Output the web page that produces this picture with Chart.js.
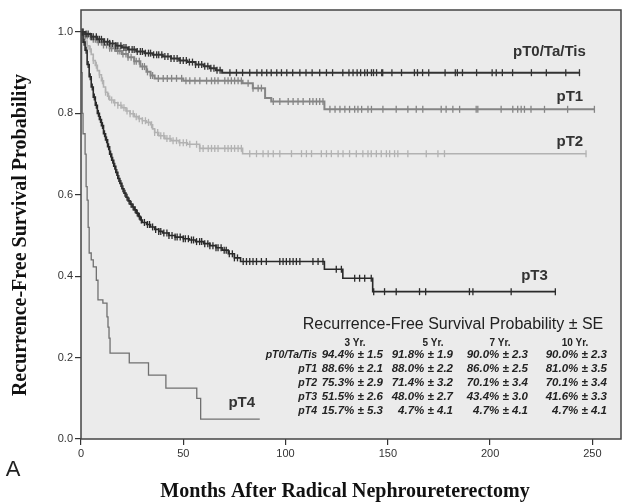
<!DOCTYPE html>
<html>
<head>
<meta charset="utf-8">
<script src="https://cdn.jsdelivr.net/npm/chart.js@4.4.1/dist/chart.umd.min.js"></script>
<style>
  body { margin: 0; background: #fff; }
  canvas { display: block; }
</style>
</head>
<body>
<canvas id="kmChart" width="623" height="503"></canvas>
<script>
// Kaplan-Meier steps: month of each drop and survival after it
const pT0Time = [0, 2, 5, 8, 11, 14, 17, 20, 23, 27, 31, 35, 40, 44, 48, 52, 56, 60, 63, 66, 69, 244];
const pT0Surv = [1, 0.995, 0.988, 0.982, 0.976, 0.972, 0.966, 0.962, 0.957, 0.952, 0.948, 0.944, 0.94, 0.935, 0.93, 0.926, 0.92, 0.916, 0.911, 0.906, 0.90, 0.90];
const pT0Censor = [1, 2.5, 3.5, 5, 6, 7.5, 9, 10, 11.5, 13, 14, 15.5, 17, 18, 19.5, 21, 22, 23.5, 25, 26, 27.5, 29, 30, 31.5, 33, 34, 35.5, 37, 38, 39.5, 41, 42.5, 44, 45.5, 47, 48.5, 50, 51.5, 53, 54.5, 56, 57.5, 59, 60.5, 62, 63.5, 65, 66.5, 68,
  72.8, 76, 79, 82.5, 86, 88.4, 90.8, 93, 95.7, 98, 100.6, 103.5, 107, 110, 113, 116.7, 120, 123, 128, 131, 133, 135, 136.7, 138.7, 140, 142, 143, 144.5, 147, 147.5, 152, 156.7, 163, 164.5, 167, 170, 178, 183, 184, 186.5, 193.4, 201, 203, 206, 211, 220.2, 227.5, 237, 243.7];

const pT1Time = [0, 2, 5, 8, 11, 14, 17, 20, 23, 26, 29, 32, 34, 36, 50, 79, 84, 90, 93, 119, 251];
const pT1Surv = [1, 0.99, 0.982, 0.975, 0.968, 0.96, 0.953, 0.946, 0.938, 0.928, 0.915, 0.902, 0.893, 0.886, 0.880, 0.874, 0.862, 0.838, 0.829, 0.81, 0.81];
const pT1Censor = [1, 2, 3, 4.5, 6, 7, 8.5, 10, 11, 12.5, 14, 15, 16.5, 18, 19, 20.5, 22, 23, 24.5, 26, 27, 28.5, 30, 31, 32.5, 34, 35,
  37.8, 40.2, 42.2, 44.3, 46.7, 49.2, 51.3, 53.2, 55.7, 58.1, 61.4, 63.8, 65.4, 67, 70.3, 71.9, 73.5, 75.1, 76.8, 78.4, 81.7, 84.1, 86.6, 88.2,
  94, 97.2, 101.3, 103.7, 106.1, 108.6, 111.8, 113.4, 115.1, 116.7, 118.3, 121.7, 124.2, 126.6, 129, 131.3, 133.8, 135.4, 137.2, 140.3, 142,
  147.6, 154.1, 159.8, 163.9, 167.1, 176.1, 178.5, 181.8, 185.1, 193.2, 194, 205.4, 211.1, 213.5, 215.2, 216.8, 220, 226.6, 237.9, 251];

const pT2Time = [0, 1, 2, 3, 4, 5, 6, 7, 8, 9, 10, 11, 12, 13, 14, 16, 18, 20, 22, 24, 26, 28, 30, 32, 34, 35, 36, 38, 41, 44, 48, 52, 58, 79, 247];
const pT2Surv = [1, 0.99, 0.978, 0.966, 0.958, 0.945, 0.93, 0.918, 0.905, 0.895, 0.88, 0.865, 0.852, 0.842, 0.833, 0.826, 0.82, 0.814, 0.806, 0.799, 0.792, 0.787, 0.782, 0.778, 0.772, 0.762, 0.753, 0.745, 0.738, 0.733, 0.728, 0.724, 0.714, 0.701, 0.701];
const pT2Censor = [1.5, 3, 4.5, 6, 7.5, 9, 10.5, 12, 13.5, 15, 16.5, 18, 19.5, 21, 22.5, 24, 25.5, 27, 28.5, 30, 31.5, 33, 34.5, 36, 37.5, 39, 40.5, 42, 43.5, 45,
  46.7, 48.3, 50, 51.6, 53.2, 56.5, 58.1, 59.7, 62.2, 63.8, 65.4, 67, 70.3, 71.9, 73.5, 75.1, 76.8, 78.4, 82.5, 85.8, 89, 91.5, 94, 97.2,
  102.9, 107.8, 110.2, 112.7, 117.5, 120, 122.4, 125.7, 128.1, 131.3, 134.6, 137.8, 140.3, 141.9, 144.4, 146.8, 149.3, 150.9, 153.3, 154.9,
  159.8, 168.8, 174.5, 177.7, 246.9];

const pT3Time = [0, 1, 2, 3, 4, 5, 6, 7, 8, 9, 10, 11, 12, 13, 14, 15, 16, 17, 18, 19, 20, 21, 22, 23, 24, 25, 26, 27, 28, 29, 30, 32, 34, 36, 38, 40, 43, 46, 50, 53, 56, 60, 63, 66, 69, 72, 75, 78, 119, 128, 142.6, 232];
const pT3Surv = [1, 0.975, 0.955, 0.92, 0.89, 0.865, 0.84, 0.82, 0.80, 0.785, 0.77, 0.75, 0.735, 0.718, 0.70, 0.685, 0.67, 0.655, 0.64, 0.628, 0.615, 0.604, 0.594, 0.585, 0.577, 0.57, 0.563, 0.555, 0.547, 0.538, 0.532, 0.527, 0.521, 0.515, 0.51, 0.506, 0.5, 0.496, 0.492, 0.489, 0.485, 0.48, 0.475, 0.47, 0.464, 0.455, 0.445, 0.436, 0.417, 0.395, 0.362, 0.362];
const pT3Censor = [0.5, 1.5, 2.5, 3.5, 4.5, 5.5, 6.5, 7.5, 8.5, 9.5, 10.5, 11.5, 12.5, 13.5, 14.5, 15.5, 16.5, 17.5, 18.5, 19.5, 20.5, 21.5, 22.5, 23.5, 24.5, 25.5, 26.5, 27.5, 28.5, 29.5,
  31, 32.5, 33.5, 35, 36.5, 38, 39, 40.5, 42, 43, 44.5, 46, 47, 48.5, 50, 51, 52.5, 54, 55, 56.5, 58, 59, 60.5, 62, 63, 64.5, 66, 67, 68.5, 70, 71, 72.5, 74, 75, 76.5,
  79.3, 80.9, 82.5, 84.1, 85.8, 88.2, 90.6, 97.2, 98.8, 100.4, 102.1, 103.7, 105.3, 107, 113.4, 115.9, 118.3, 124.8, 127.3, 133.8, 136.2, 138.7, 141.9,
  143.1, 148.4, 154.1, 165.5, 168.5, 189.9, 191.6, 210.3, 231.9];

const pT4Time = [0, 0.3, 0.6, 1, 2, 2.5, 3, 3.5, 4, 5, 6, 7.5, 8.3, 10.7, 12.7, 13.2, 13.7, 14.2, 23.6, 33, 41.5, 56.6, 58.5, 87.4];
const pT4Surv = [1, 0.9, 0.8, 0.75, 0.70, 0.62, 0.587, 0.52, 0.457, 0.44, 0.423, 0.39, 0.342, 0.334, 0.30, 0.275, 0.248, 0.211, 0.187, 0.157, 0.125, 0.10, 0.049, 0.049];

const groupNames = ['pT0/Ta/Tis', 'pT1', 'pT2', 'pT3', 'pT4'];
const xTickValues = [0, 50, 100, 150, 200, 250];
const yTickValues = [0, 0.2, 0.4, 0.6, 0.8, 1.0];

// table in the lower right corner
const tableYears = ['3 Yr.', '5 Yr.', '7 Yr.', '10 Yr.'];
const tableEst = [
  [94.4, 91.8, 90.0, 90.0],
  [88.6, 88.0, 86.0, 81.0],
  [75.3, 71.4, 70.1, 70.1],
  [51.5, 48.0, 43.4, 41.6],
  [15.7, 4.7, 4.7, 4.7]
];
const tableSE = [
  [1.5, 1.9, 2.3, 2.3],
  [2.1, 2.2, 2.5, 3.5],
  [2.9, 3.2, 3.4, 3.4],
  [2.6, 2.7, 3.0, 3.3],
  [5.3, 4.1, 4.1, 4.1]
];

const colors = ['#333333', '#858585', '#b2b2b2', '#2a2a2a', '#707070'];
const widths = [2, 2, 1.6, 1.6, 1.3];

function survAt(times, surv, t) {
  let s = surv[0];
  for (let i = 0; i < times.length; i++) {
    if (times[i] <= t) s = surv[i];
  }
  return s;
}

function curve(times, surv, i) {
  return {
    type: 'line',
    data: times.map((t, k) => ({ x: t, y: surv[k] })),
    borderColor: colors[i],
    borderWidth: widths[i],
    stepped: 'before',
    pointRadius: 0,
    fill: false
  };
}

function marks(times, surv, censor, i) {
  return {
    type: 'scatter',
    data: censor.map(t => ({ x: t, y: survAt(times, surv, t) })),
    borderColor: colors[i],
    backgroundColor: colors[i],
    pointStyle: 'line',
    rotation: 90,
    pointRadius: 3.5,
    borderWidth: 1.3,
    showLine: false
  };
}

const labelPos = [[229, 0.951], [239, 0.84], [239, 0.73], [221.7, 0.40], [78.6, 0.088]];

const figureText = {
  id: 'figureText',
  beforeDraw(chart) {
    const { ctx, chartArea: a } = chart;
    ctx.save();
    ctx.fillStyle = '#ebebeb';
    ctx.fillRect(a.left, a.top, a.width, a.height);
    ctx.restore();
  },
  afterDraw(chart) {
    const { ctx, chartArea: a, scales } = chart;
    ctx.save();

    // frame
    ctx.strokeStyle = '#444';
    ctx.lineWidth = 1.5;
    ctx.strokeRect(a.left, a.top, a.width, a.height);

    // group labels
    ctx.fillStyle = '#333';
    ctx.font = 'bold 15px "Liberation Sans", Arial, sans-serif';
    ctx.textAlign = 'center';
    ctx.textBaseline = 'middle';
    groupNames.forEach((name, i) => {
      ctx.fillText(name, scales.x.getPixelForValue(labelPos[i][0]), scales.y.getPixelForValue(labelPos[i][1]));
    });

    // table
    ctx.fillStyle = '#222';
    ctx.font = '16px "Liberation Sans", Arial, sans-serif';
    ctx.fillText('Recurrence-Free Survival Probability ± SE', 453, 325);

    ctx.font = 'bold 10px "Liberation Sans", Arial, sans-serif';
    const headX = [355, 433, 500, 575];
    tableYears.forEach((y, j) => ctx.fillText(y, headX[j], 343));

    const rowY = [355, 369, 383, 397, 411];
    const colRight = [383, 453, 528, 607];
    groupNames.forEach((name, i) => {
      ctx.textAlign = 'right';
      ctx.font = 'bold italic 10.5px "Liberation Sans", Arial, sans-serif';
      ctx.fillText(name, 317, rowY[i]);
      ctx.font = 'bold italic 11.5px "Liberation Sans", Arial, sans-serif';
      tableEst[i].forEach((v, j) => {
        ctx.fillText(v.toFixed(1) + '% ± ' + tableSE[i][j].toFixed(1), colRight[j], rowY[i]);
      });
    });

    // axis titles
    ctx.fillStyle = '#111';
    ctx.textAlign = 'center';
    ctx.font = 'bold 20px "Liberation Serif", "Times New Roman", serif';
    ctx.fillText('Months After Radical Nephroureterectomy', 345, 492);
    ctx.save();
    ctx.translate(21, 235);
    ctx.rotate(-Math.PI / 2);
    ctx.fillText('Recurrence-Free Survival Probability', 0, 0);
    ctx.restore();

    ctx.font = '22px "Liberation Sans", Arial, sans-serif';
    ctx.fillStyle = '#222';
    ctx.fillText('A', 13, 470);

    ctx.restore();
  }
};

new Chart(document.getElementById('kmChart'), {
  data: {
    datasets: [
      curve(pT0Time, pT0Surv, 0),
      marks(pT0Time, pT0Surv, pT0Censor, 0),
      curve(pT3Time, pT3Surv, 3),
      marks(pT3Time, pT3Surv, pT3Censor, 3),
      curve(pT1Time, pT1Surv, 1),
      marks(pT1Time, pT1Surv, pT1Censor, 1),
      curve(pT2Time, pT2Surv, 2),
      marks(pT2Time, pT2Surv, pT2Censor, 2),
      curve(pT4Time, pT4Surv, 4)
    ]
  },
  options: {
    responsive: false,
    animation: false,
    layout: { autoPadding: false, padding: { left: 0, top: 10, right: 2, bottom: 0 } },
    plugins: {
      legend: { display: false },
      tooltip: { enabled: false }
    },
    scales: {
      x: {
        type: 'linear',
        min: 0,
        max: 264,
        afterFit: s => {
          s.height = 64;
          s.paddingLeft = 0;
          s.paddingRight = 0;
        },
        afterBuildTicks: s => { s.ticks = xTickValues.map(v => ({ value: v })); },
        border: { display: false },
        grid: { drawOnChartArea: false, drawTicks: true, tickLength: 6, tickColor: '#333', lineWidth: 1.2 },
        ticks: { color: '#333', padding: 2, maxRotation: 0, font: { family: '"Liberation Sans", Arial, sans-serif', size: 11 } }
      },
      y: {
        type: 'linear',
        min: 0,
        max: 1.054,
        afterFit: s => {
          s.width = 81;
          s.paddingTop = 0;
          s.paddingBottom = 0;
        },
        afterBuildTicks: s => { s.ticks = yTickValues.map(v => ({ value: v })); },
        border: { display: false },
        grid: { drawOnChartArea: false, drawTicks: true, tickLength: 6, tickColor: '#333', lineWidth: 1.2 },
        ticks: {
          color: '#333',
          padding: 2,
          font: { family: '"Liberation Sans", Arial, sans-serif', size: 11 },
          callback: v => v.toFixed(1)
        }
      }
    }
  },
  plugins: [figureText]
});
</script>
</body>
</html>
